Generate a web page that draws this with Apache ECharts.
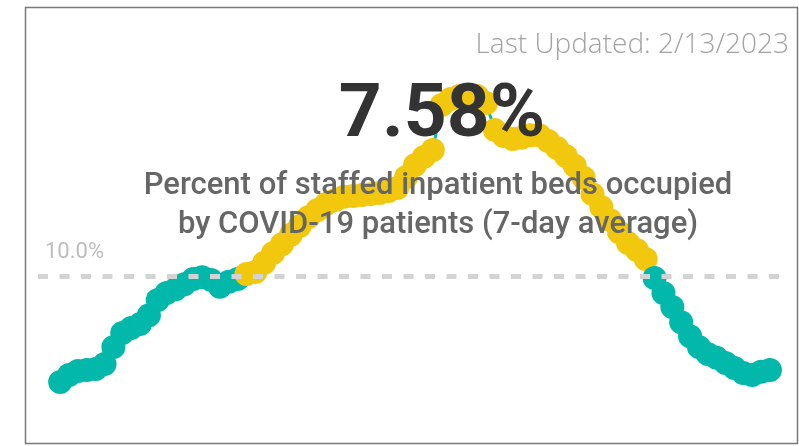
<!DOCTYPE html>
<html>
<head>
<meta charset="utf-8">
<script src="https://cdn.jsdelivr.net/npm/echarts@6/dist/echarts.min.js"></script>
<style>
  html, body { margin: 0; padding: 0; background: #fff; }
  #main { width: 799px; height: 446px; }
</style>
</head>
<body>
<div id="main"></div>
<script>
// 7-day average percent of staffed inpatient beds occupied by COVID-19 patients
var pct_values = [
    7.27, 7.45, 7.55, 7.58, 7.60, 7.73, 8.17, 8.53, 8.66, 8.76,
    8.99, 9.38, 9.56, 9.66, 9.79, 9.92, 9.97, 9.90, 9.72, 9.85,
    9.92, 10.05, 10.10, 10.34, 10.59, 10.82, 11.06, 11.29, 11.52, 11.70,
    11.86, 11.96, 12.04, 12.06, 12.09, 12.11, 12.14, 12.19, 12.27, 12.55,
    12.86, 13.07, 13.25, 14.41, 14.56, 14.64, 14.66, 14.64, 14.46, 13.76,
    13.61, 13.53, 13.56, 13.63, 13.63, 13.48, 13.30, 13.09, 12.84, 12.53,
    12.11, 11.78, 11.44, 11.13, 10.85, 10.67, 10.44, 9.95, 9.56, 9.20,
    8.81, 8.45, 8.17, 7.99, 7.89, 7.76, 7.63, 7.50, 7.45, 7.53,
    7.58
];
var threshold = 10;
var threshold_label = '10.0%';
var latest_label = '7.58%';
var subtitle_lines = ['Percent of staffed inpatient beds occupied', 'by COVID-19 patients (7-day average)'];
var updated_label = 'Last Updated: 2/13/2023';

var teal = '#01B8AA';
var yellow = '#F2C80F';

var chart = echarts.init(document.getElementById('main'), null, { renderer: 'canvas' });

var series_data = pct_values.map(function (v, i) {
    return {
        value: [i, v],
        itemStyle: { color: v > threshold ? yellow : teal }
    };
});

var option = {
    animation: false,
    backgroundColor: '#fff',
    grid: { left: 38, right: 14, top: 4.4, bottom: 14.8 },
    xAxis: {
        type: 'value',
        min: -2.5,
        max: 81.7,
        show: false
    },
    yAxis: {
        type: 'value',
        min: 6,
        max: 17,
        show: false
    },
    series: [
        {
            type: 'line',
            data: series_data,
            symbol: 'circle',
            symbolSize: 24,
            showAllSymbol: true,
            lineStyle: { color: teal, width: 3 },
            itemStyle: { color: teal },
            markLine: {
                silent: true,
                symbol: 'none',
                lineStyle: { color: '#d3d3d3', width: 5, type: [10, 11.5] },
                label: {
                    position: 'insideStartTop',
                    formatter: threshold_label,
                    color: '#bdbdbd',
                    fontFamily: 'Roboto',
                    fontSize: 22,
                    distance: [7, 13]
                },
                data: [{ yAxis: threshold }]
            }
        }
    ],
    graphic: [
        {
            type: 'rect',
            z: 100,
            shape: { x: 25.5, y: 7.5, width: 772, height: 436 },
            style: { fill: 'none', stroke: '#7a7a7a', lineWidth: 1.5 }
        },
        {
            type: 'text',
            z: 100,
            x: 789,
            y: 45,
            style: {
                text: updated_label,
                textAlign: 'right',
                textVerticalAlign: 'middle',
                fill: '#a3a3a3',
                fontFamily: 'Open Sans',
                fontWeight: 300,
                fontSize: 28
            }
        },
        {
            type: 'text',
            z: 100,
            x: 442,
            y: 117,
            style: {
                text: latest_label,
                textAlign: 'center',
                textVerticalAlign: 'middle',
                fill: '#333333',
                fontFamily: 'Roboto',
                fontWeight: 'bold',
                fontSize: 75
            }
        },
        {
            type: 'text',
            z: 100,
            x: 438,
            y: 186,
            style: {
                text: subtitle_lines[0],
                textAlign: 'center',
                textVerticalAlign: 'middle',
                fill: '#666666',
                fontFamily: 'Roboto',
                fontWeight: 500,
                fontSize: 31
            }
        },
        {
            type: 'text',
            z: 100,
            x: 438,
            y: 225,
            style: {
                text: subtitle_lines[1],
                textAlign: 'center',
                textVerticalAlign: 'middle',
                fill: '#666666',
                fontFamily: 'Roboto',
                fontWeight: 500,
                fontSize: 31
            }
        }
    ]
};

chart.setOption(option);
window.addEventListener('resize', chart.resize);
</script>
</body>
</html>
